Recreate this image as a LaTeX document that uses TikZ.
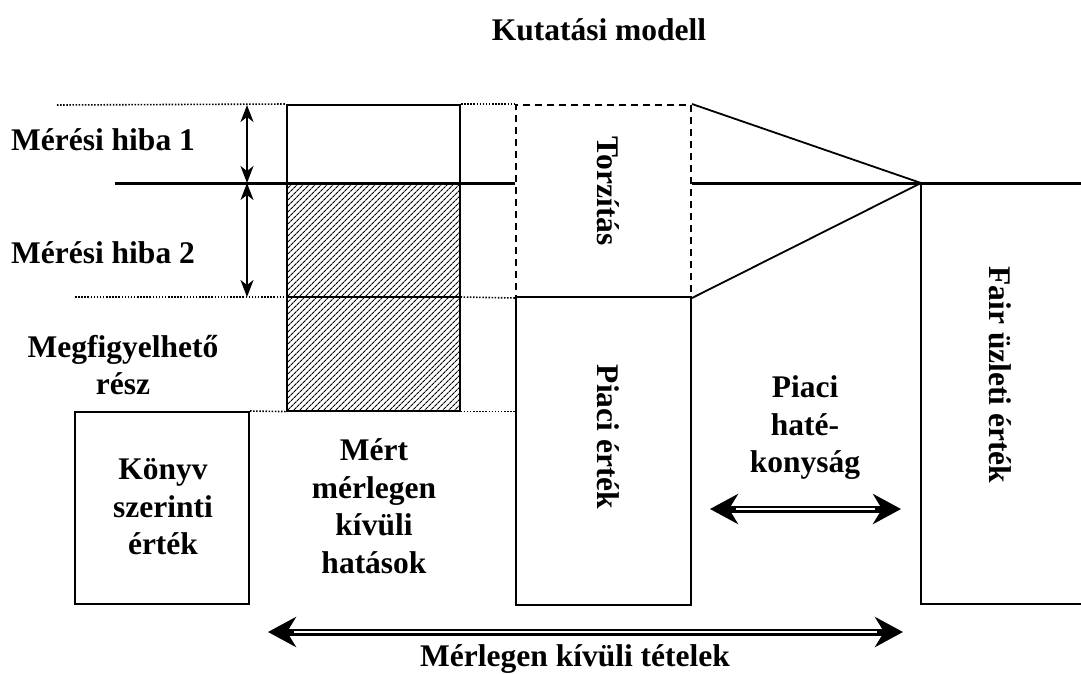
\documentclass[tikz,border=0pt]{standalone}
\usepackage{fontspec}
\setmainfont{Liberation Serif}
\usetikzlibrary{arrows.meta,patterns.meta}
\begin{document}
\begin{tikzpicture}[x=1pt,y=-1pt,
  lbl/.style={font=\fontsize{31.5}{37.5}\selectfont\bfseries, align=center, inner sep=0pt},
  boxline/.style={draw, line width=2pt, inner sep=0pt},
  hatched/.style={boxline, pattern={Lines[angle=45,distance=4pt,line width=1.2pt]}},
  dashbox/.style={draw, line width=2pt, dash pattern=on 7pt off 5pt, inner sep=0pt},
  guide/.style={line width=1.6pt, dash pattern=on 1.5pt off 1.6pt},
  axis/.style={line width=3pt},
  thin/.style={line width=1.8pt},
  errarrow/.style={line width=1.8pt, {Stealth[length=17pt,width=13pt,inset=5pt]}-{Stealth[length=17pt,width=13pt,inset=5pt]}},
  dblout/.style={line width=7pt, {Stealth[length=28pt,width=30pt,inset=9pt]}-{Stealth[length=28pt,width=30pt,inset=9pt]}},
  dblin/.style={white, line width=2.2pt, shorten <=26pt, shorten >=26pt}
]
\useasboundingbox (0,0) rectangle (1081,673);

% title
\node[lbl] (title) at (599,30) {Kutatási modell};

% reference levels
\coordinate (lvlA) at (57,105);
\coordinate (lvlB) at (75,297);
\coordinate (axL) at (115,183);
\coordinate (apex) at (921,183);
\coordinate (axR) at (1081,183);

% boxes
\node[boxline, minimum width=173pt, minimum height=78pt] (err1) at (373.5,144) {};
\node[hatched, minimum width=173pt, minimum height=228pt] (meas) at (373.5,297) {};
\node[boxline, minimum width=174pt, minimum height=192pt] (book) at (162,508) {};
\node[dashbox, minimum width=175pt, minimum height=192pt] (dist) at (603.5,201) {};
\node[boxline, minimum width=175pt, minimum height=308pt] (mkt) at (603.5,451) {};

% dotted guide lines
\draw[guide] (lvlA) -- (err1.north west);
\draw[guide] (err1.north east) -- (dist.north west);
\draw[guide] (lvlB) -- (meas.west);
\draw[guide] (meas.east) -- (dist.south west);
\draw[guide] (book.north east) -- (meas.south west);
\draw[guide] (meas.south east) -- (mkt.west |- meas.south east);

% split of the hatched box
\draw[boxline] (meas.west) -- (meas.east);

% the horizontal axis
\draw[axis] (axL) -- (dist.west |- axL);
\draw[axis] (dist.east |- apex) -- (axR);

% fair value box (open on the right)
\coordinate (fairBR) at (1081,604);
\draw[thin] (apex) -- (apex |- fairBR) -- (fairBR);

% convergence lines
\draw[thin] (dist.north east) -- (apex) -- (dist.south east);

% measurement-error arrows
\coordinate (eTop) at (247,105);
\coordinate (eMid) at (247,183);
\coordinate (eBot) at (247,297);
\draw[errarrow] (eTop) -- (eMid);
\draw[errarrow] (eMid) -- (eBot);

% double arrows
\coordinate (effL) at (710,509);
\coordinate (effR) at (901,509);
\draw[dblout] (effL) -- (effR);
\draw[dblin] (effL) -- (effR);
\coordinate (offL) at (268,632);
\coordinate (offR) at (903,632);
\draw[dblout] (offL) -- (offR);
\draw[dblin] (offL) -- (offR);

% labels
\node[lbl] (t1) at (103,140) {Mérési hiba 1};
\node[lbl] (t2) at (103,253) {Mérési hiba 2};
\node[lbl] (t3) at (123,365) {Megfigyelhető\\rész};
\node[lbl] (t4) at (163,507) {Könyv\\szerinti\\érték};
\node[lbl] (t5) at (374,506) {Mért\\mérlegen\\kívüli\\hatások};
\node[lbl, rotate=-90] (t6) at (608,191) {Torzítás};
\node[lbl, rotate=-90] (t7) at (608,437) {Piaci érték};
\node[lbl] (t8) at (805,428) {Piaci\\haté-\\konyság};
\node[lbl, rotate=-90] (t9) at (1000,375) {Fair üzleti érték};
\node[lbl] (t10) at (575,659) {Mérlegen kívüli tételek};
\end{tikzpicture}
\end{document}
